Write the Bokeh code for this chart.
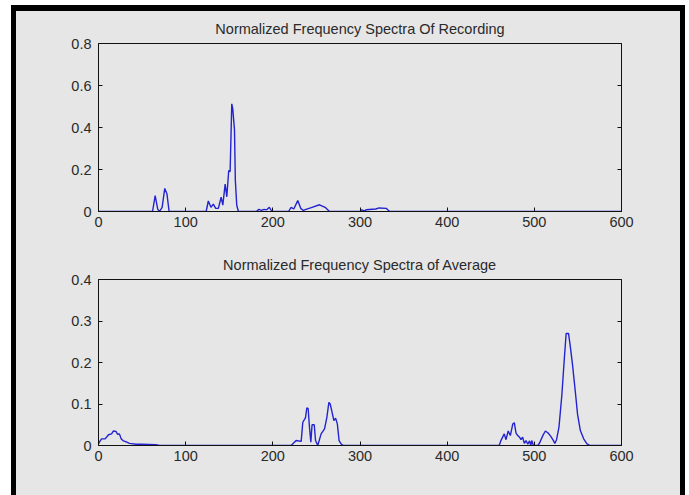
from bokeh.plotting import figure
from bokeh.layouts import column
from bokeh.models import LinearAxis, FixedTicker, Range1d
from bokeh.embed import file_html
from bokeh.resources import INLINE

# ---- data ----
x_ticks = [0, 100, 200, 300, 400, 500, 600]
rec_y_ticks = [0, 0.2, 0.4, 0.6, 0.8]
avg_y_ticks = [0, 0.1, 0.2, 0.3, 0.4]

rec_x = [0, 62, 65, 68, 70, 73, 76, 78.5, 81, 123.5, 126, 129, 131.7, 134.5,
         137.5, 140.7, 142.6, 145.3, 147.2, 149.4, 151, 152.9, 154, 156, 157,
         158.6, 160.5, 181, 184, 187, 190, 193, 196, 199, 218, 221, 224, 228.6,
         232, 235, 238, 245, 253.5, 260, 265, 300, 302, 305, 307, 318, 322,
         330, 334, 600]
rec_y = [0, 0, 0.076, 0.01, 0.0, 0.02, 0.11, 0.085, 0, 0, 0.05, 0.02, 0.035,
         0.015, 0.015, 0.068, 0.03, 0.13, 0.07, 0.195, 0.19, 0.513, 0.49, 0.39,
         0.148, 0.03, 0, 0, 0.01, 0.005, 0.01, 0.008, 0.02, 0, 0, 0.02, 0.012,
         0.052, 0.015, 0.005, 0.01, 0.02, 0.032, 0.02, 0, 0, 0.008, 0.003,
         0.008, 0.012, 0.017, 0.015, 0, 0]

avg_x = [0, 1, 3.5, 7.6, 11.5, 15, 17.2, 20, 22, 24, 26, 28, 32.5, 35.5, 43,
         49, 66, 70, 221, 226.7, 232.5, 234.4, 237.5, 239, 240.5, 242, 243.6,
         245, 247.5, 249, 251.5, 255.4, 259.3, 262, 264.3, 265.8, 268, 270,
         272, 274, 276, 278.7, 281, 459.7, 461.5, 465.5, 467.5, 470, 472.5,
         475.3, 477, 479, 481, 483, 484.7, 486.6, 488.5, 490.5, 492.5, 494.5,
         496, 497, 499, 504, 506, 510, 512.7, 515.8, 518.9, 521.6, 523.5,
         525.5, 528.3, 531.5, 534.1, 536.5, 539.2, 541, 543.8, 547, 549.6,
         552.8, 556.6, 560.4, 564, 600]
avg_y = [0.004, 0.008, 0.016, 0.016, 0.026, 0.028, 0.035, 0.034, 0.027, 0.028,
         0.016, 0.012, 0.008, 0.005, 0.003, 0.003, 0.002, 0, 0, 0.012, 0.01,
         0.056, 0.067, 0.091, 0.089, 0.045, 0.008, 0.05, 0.05, 0.012, 0, 0.028,
         0.04, 0.068, 0.104, 0.1, 0.08, 0.06, 0.066, 0.052, 0.012, 0.003, 0,
         0, 0.011, 0.028, 0.014, 0.035, 0.024, 0.052, 0.055, 0.03, 0.024, 0.02,
         0.014, 0.02, 0.005, 0.012, 0.003, 0.011, 0.0, 0.012, 0.0, 0.0, 0.006,
         0.025, 0.035, 0.03, 0.022, 0.013, 0.005, 0.014, 0.045, 0.12, 0.2,
         0.27, 0.27, 0.243, 0.195, 0.13, 0.075, 0.036, 0.016, 0.004, 0, 0]

BG = "#e6e6e6"
LINE = "#2323cf"
TXT = "#2a2a2a"
FONT = "Liberation Sans"


def make(title, xs, ys, ymax, yticks, height, top, bottom, title_gap):
    p = figure(width=664, height=height, output_backend="svg",
               toolbar_location=None, x_range=Range1d(0, 600),
               y_range=Range1d(0, ymax), title=title,
               min_border_left=82, min_border_right=59,
               min_border_top=top, min_border_bottom=bottom)
    p.background_fill_color = BG
    p.border_fill_color = BG
    p.outline_line_color = "#111111"
    p.grid.visible = False
    p.title.align = "center"
    p.title.text_font = FONT
    p.title.text_font_size = "14.5px"
    p.title.text_font_style = "normal"
    p.title.text_color = TXT
    p.title.standoff = title_gap
    p.line(xs, ys, line_color=LINE, line_width=1.4)
    p.xaxis.ticker = FixedTicker(ticks=x_ticks)
    p.yaxis.ticker = FixedTicker(ticks=yticks)
    p.yaxis.major_label_overrides = {0: "0"}
    for ax in (p.xaxis[0], p.yaxis[0]):
        ax.major_tick_in = 4
        ax.major_tick_out = 0
        ax.minor_tick_line_color = None
        ax.axis_line_color = "#111111"
        ax.major_tick_line_color = "#111111"
        ax.major_label_text_font = FONT
        ax.major_label_text_font_size = "14.5px"
        ax.major_label_text_color = TXT
    p.xaxis.major_label_standoff = 5
    p.yaxis.major_label_standoff = 7
    # mirrored ticks on the right side (box style), no labels
    a = LinearAxis(ticker=FixedTicker(ticks=yticks), major_tick_in=4,
                   major_tick_out=0, minor_tick_line_color=None,
                   major_label_text_color=None,
                   major_label_text_font_size="1px",
                   axis_line_color="#111111",
                   major_tick_line_color="#111111",
                   major_label_standoff=0)
    p.add_layout(a, "right")
    return p


p1 = make("Normalized Frequency Spectra Of Recording", rec_x, rec_y, 0.8,
          rec_y_ticks, 234, 32, 34, 14)
p2 = make("Normalized Frequency Spectra of Average", avg_x, avg_y, 0.4,
          avg_y_ticks, 250, 34, 50, 14)

page = column(p1, p2, styles={
    "background-color": BG,
    "border-left": "5px solid black",
    "border-right": "5px solid black",
    "border-top": "6px solid black",
    "position": "relative",
    "left": "11px",
    "top": "5px",
})

open("out.html", "w").write(file_html(page, INLINE))
